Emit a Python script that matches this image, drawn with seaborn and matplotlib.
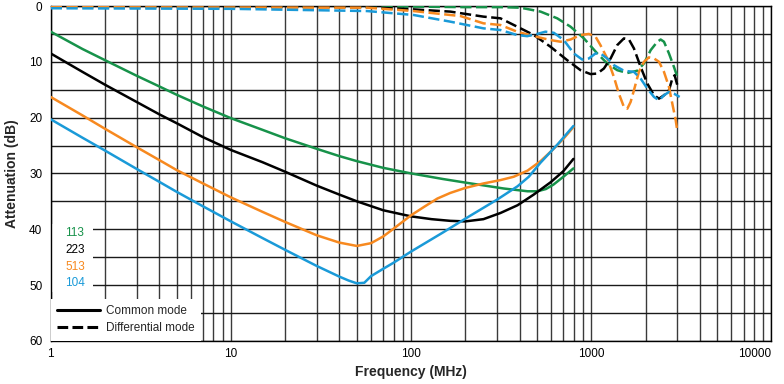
"""
Attenuation vs frequency, common and differential mode, for four part numbers
"""

import pandas as pd
import numpy as np
import matplotlib.pyplot as plt
import seaborn as sns
from matplotlib.lines import Line2D
from matplotlib.patches import Rectangle
from matplotlib.ticker import MultipleLocator, FixedLocator, FixedFormatter, NullFormatter

# part numbers and colours
parts = ['113', '223', '513', '104']
part_colors = {'113': '#17924a', '223': '#000000', '513': '#f7891f', '104': '#1a9ad8'}

# common mode (solid) readings: frequency in MHz, attenuation in dB
cm_113_f = [1, 1.5, 2, 3, 4, 5, 7, 10, 15, 20, 30, 40, 50, 70, 100, 150, 205, 326, 443, 503, 560, 617,
            700, 796]
cm_113_a = [4.6, 7.7, 9.7, 12.5, 14.4, 15.9, 18.0, 20.1, 22.2, 23.7, 25.6, 26.9, 27.8, 29.0, 30.0, 31.0,
            31.7, 32.7, 33.2, 33.2, 32.8, 32.0, 30.6, 29.1]

cm_223_f = [1, 1.5, 2, 3, 4, 5, 7, 10, 15, 20, 30, 40, 50, 70, 100, 130, 165, 200, 252, 313, 390, 479,
            594, 700, 796]
cm_223_a = [8.5, 11.8, 14.1, 17.2, 19.4, 21.0, 23.5, 25.8, 28.0, 29.7, 32.2, 33.8, 35.0, 36.6, 37.7,
            38.2, 38.5, 38.6, 38.2, 37.1, 35.7, 33.8, 31.6, 29.6, 27.4]

cm_513_f = [1, 1.5, 2, 3, 4, 5, 7, 10, 15, 20, 30, 40, 50, 60, 70, 80, 100, 118, 140, 165, 200, 252,
            313, 371, 443, 523, 609, 700, 796]
cm_513_a = [16.3, 19.6, 22.0, 25.3, 27.6, 29.4, 31.8, 34.3, 36.9, 38.7, 41.1, 42.4, 43.0, 42.5, 41.3,
            39.9, 37.5, 36.0, 34.5, 33.5, 32.6, 31.8, 31.2, 30.6, 29.5, 27.8, 25.8, 23.8, 21.7]

cm_104_f = [1, 1.5, 2, 3, 4, 5, 7, 10, 15, 20, 30, 40, 45, 50, 55, 60, 70, 80, 100, 150, 205, 300, 390,
            450, 522, 650, 796]
cm_104_a = [20.3, 23.6, 25.9, 29.2, 31.5, 33.3, 35.9, 38.6, 41.6, 43.7, 46.6, 48.5, 49.2, 49.7, 49.6,
            48.4, 47.1, 46.0, 44.0, 40.6, 37.9, 34.7, 32.3, 30.6, 28.1, 24.8, 21.5]

# differential mode (dashed) readings
dm_113_f = [1, 103, 200, 313, 405, 523, 647, 767, 910, 1080, 1227, 1394, 1585, 1802, 1960, 2137, 2326,
            2427, 2532, 2699, 2875, 3005]
dm_113_a = [0.0, 0.1, 0.2, 0.2, 0.3, 1.0, 2.2, 3.7, 5.8, 8.5, 10.3, 11.5, 12.0, 11.6, 10.3, 7.9, 6.4,
            6.0, 6.4, 8.5, 10.9, 12.7]

dm_223_f = [1, 57, 103, 165, 252, 313, 405, 480, 594, 735, 872, 991, 1080, 1175, 1280, 1394, 1518,
            1619, 1725, 1879, 2047, 2230, 2377, 2532, 2699, 2817, 2902, 3005]
dm_223_a = [0.0, 0.2, 0.6, 1.0, 1.9, 2.2, 4.0, 5.2, 7.3, 9.7, 11.5, 12.2, 12.1, 11.2, 9.4, 7.0, 5.8,
            6.0, 7.6, 10.9, 13.9, 16.0, 16.6, 16.0, 15.1, 13.0, 12.4, 14.2]

dm_513_f = [1, 57, 103, 188, 252, 313, 388, 480, 594, 676, 767, 872, 970, 1056, 1124, 1227, 1335,
            1423, 1518, 1585, 1653, 1725, 1838, 1960, 2089, 2230, 2377, 2532, 2699, 2817, 2940, 3005]
dm_513_a = [0.2, 0.3, 0.9, 1.8, 3.1, 3.4, 4.6, 5.4, 6.1, 6.4, 6.0, 5.2, 5.0, 5.5, 7.0, 9.4, 12.7,
            15.7, 18.1, 18.4, 17.2, 15.1, 11.8, 10.0, 9.2, 9.4, 10.0, 11.8, 14.5, 17.5, 20.4, 22.5]

dm_104_f = [1, 10, 57, 103, 165, 252, 313, 388, 441, 501, 557, 620, 704, 800, 891, 970, 1056, 1124,
            1227, 1335, 1518, 1725, 1879, 2047, 2230, 2377, 2532, 2699, 2875, 3094]
dm_104_a = [0.4, 0.5, 0.9, 1.6, 2.8, 4.0, 4.3, 5.2, 5.4, 5.0, 4.6, 4.8, 6.1, 8.5, 9.6, 9.4, 8.5, 8.5,
            9.4, 10.6, 11.6, 11.8, 13.0, 14.8, 16.3, 16.9, 16.0, 15.4, 15.7, 16.3]

x_ticks = [1, 10, 100, 1000, 10000]
x_tick_labels = ['1', '10', '100', '1000', '10000']
y_ticks = [0, 10, 20, 30, 40, 50, 60]


def build_frame():
    """Long-form table for seaborn: one row per reading"""
    series = [
        ('113', 'Common mode', cm_113_f, cm_113_a),
        ('223', 'Common mode', cm_223_f, cm_223_a),
        ('513', 'Common mode', cm_513_f, cm_513_a),
        ('104', 'Common mode', cm_104_f, cm_104_a),
        ('113', 'Differential mode', dm_113_f, dm_113_a),
        ('223', 'Differential mode', dm_223_f, dm_223_a),
        ('513', 'Differential mode', dm_513_f, dm_513_a),
        ('104', 'Differential mode', dm_104_f, dm_104_a),
    ]
    frames = []
    for part, mode, f, a in series:
        frames.append(pd.DataFrame({'Frequency': f, 'Attenuation': a, 'Part': part, 'Mode': mode}))
    return pd.concat(frames, ignore_index=True)


sns.set_style('white')
plt.rcParams['font.family'] = ['Liberation Sans', 'DejaVu Sans']

df = build_frame()

fig = plt.figure(figsize=(7.84, 3.84), dpi=100)
ax = fig.add_axes([0.0647, 0.1125, 0.9193, 0.8718])

sns.lineplot(data=df, x='Frequency', y='Attenuation', hue='Part', style='Mode',
             hue_order=parts, palette=part_colors,
             style_order=['Common mode', 'Differential mode'],
             dashes={'Common mode': '', 'Differential mode': (4.5, 1.8)},
             linewidth=1.8, sort=True, estimator=None, legend=False, ax=ax, zorder=3)

ax.set_xscale('log')
ax.set_xlim(1, 10000)
ax.set_ylim(60, 0)

# ticks and grid
ax.xaxis.set_major_locator(FixedLocator(x_ticks))
ax.xaxis.set_major_formatter(FixedFormatter(x_tick_labels))
ax.xaxis.set_minor_formatter(NullFormatter())
ax.set_yticks(y_ticks)
ax.yaxis.set_minor_locator(MultipleLocator(5))
ax.tick_params(axis='both', which='both', direction='in', length=3, width=0.8, colors='black',
               labelsize=8.5)
ax.tick_params(axis='x', pad=5)
ax.tick_params(axis='y', pad=6)
ax.grid(True, which='both', axis='x', color='#3a3a3a', linewidth=1.0)
ax.grid(True, which='both', axis='y', color='#1a1a1a', linewidth=1.0)
ax.set_axisbelow(True)
for sp in ax.spines.values():
    sp.set_color('black')
    sp.set_linewidth(1.0)

# last frequency label sits inside the frame
ax.get_xticklabels()[-1].set_horizontalalignment('right')

ax.set_xlabel('Frequency (MHz)', fontsize=10, fontweight='bold', labelpad=4)
ax.set_ylabel('Attenuation (dB)', fontsize=10, fontweight='bold', labelpad=7)

# part number key on white box
ax.add_patch(Rectangle((1, 39.0), 0.72, 12.2, facecolor='white', edgecolor='none', zorder=2))
for i, part in enumerate(parts):
    ax.text(1.2, 40.7 + 3.0 * i, part, color=part_colors[part], fontsize=8.5,
            va='center', ha='left', zorder=4)

# line style legend
handles = [
    Line2D([0], [0], color='black', linewidth=2.2, label='Common mode'),
    Line2D([0], [0], color='black', linewidth=2.2, dashes=(3.5, 1.4), label='Differential mode'),
]
leg = ax.legend(handles=handles, loc='lower left', bbox_to_anchor=(0, 0), borderaxespad=0,
                fontsize=8.5, frameon=True, fancybox=False, framealpha=1, edgecolor='white',
                handlelength=3.6, handletextpad=0.5, labelspacing=0.45, borderpad=0.55)
leg.get_frame().set_linewidth(0)
leg.set_zorder(5)

plt.savefig('out.png', dpi=100)
plt.close()
print("Created: out.png")
